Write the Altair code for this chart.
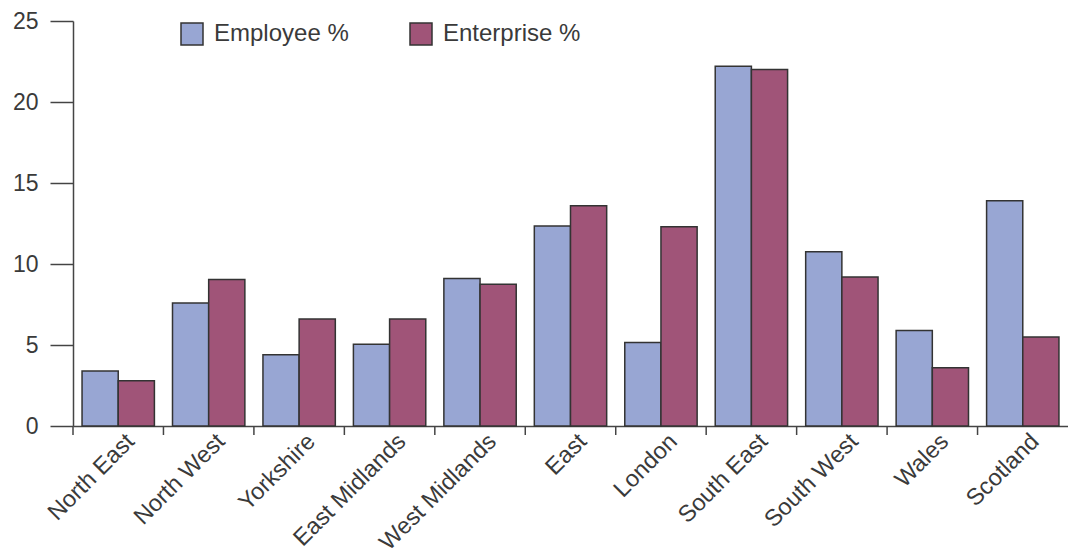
import altair as alt
import pandas as pd

regions = ["North East", "North West", "Yorkshire", "East Midlands", "West Midlands",
           "East", "London", "South East", "South West", "Wales", "Scotland"]
employee = [3.4, 7.6, 4.4, 5.05, 9.1, 12.35, 5.15, 22.2, 10.75, 5.9, 13.9]
enterprise = [2.8, 9.05, 6.6, 6.6, 8.75, 13.6, 12.3, 22.0, 9.2, 3.6, 5.5]
series = ["Employee %", "Enterprise %"]
colors = ["#98a6d3", "#a05478"]
y_ticks = [0, 5, 10, 15, 20, 25]

rows = []
for r, e, n in zip(regions, employee, enterprise):
    rows.append({"region": r, "series": series[0], "value": e})
    rows.append({"region": r, "series": series[1], "value": n})
df = pd.DataFrame(rows)
tick_df = pd.DataFrame({"region": regions})

font = "Liberation Sans"
text_color = "#3a3a3a"
line_color = "#444444"

x_scale = alt.Scale(domain=regions, paddingInner=0, paddingOuter=0)
x_axis = alt.Axis(title=None, labelAngle=-45, ticks=False, domain=True,
                  domainColor=line_color, domainWidth=1.5, labelFontSize=23.5,
                  labelFont=font, labelColor=text_color, labelPadding=3,
                  labelOffset=4, grid=False)

bars = alt.Chart(df).mark_bar(stroke="#333333", strokeWidth=1.5).encode(
    x=alt.X("region:N", scale=x_scale, axis=x_axis),
    xOffset=alt.XOffset("series:N", scale=alt.Scale(domain=series, paddingOuter=0.25, paddingInner=0)),
    y=alt.Y("value:Q", scale=alt.Scale(domain=[0, 25], nice=False),
            axis=alt.Axis(title=None, values=y_ticks, tickSize=23, tickColor=line_color,
                          tickWidth=1.5, domainColor=line_color, domainWidth=1.5,
                          labelFontSize=23, labelFont=font, labelColor=text_color,
                          labelPadding=12, grid=False)),
    color=alt.Color("series:N", scale=alt.Scale(domain=series, range=colors),
                    legend=alt.Legend(title=None, orient="none", legendX=107, legendY=1,
                                      direction="horizontal", symbolType="square",
                                      symbolSize=484, symbolStrokeColor="#333333",
                                      symbolStrokeWidth=1.5, labelFontSize=24,
                                      labelFont=font, labelColor=text_color,
                                      columnPadding=58, labelOffset=10)),
)

ticks = alt.Chart(tick_df).mark_rule(color=line_color, strokeWidth=1.5).encode(
    x=alt.X("region:N", scale=x_scale, axis=x_axis, bandPosition=0),
    y=alt.value(405),
    y2=alt.value(414),
)

chart = alt.layer(bars, ticks).properties(
    width=995, height=405,
    autosize=alt.AutoSizeParams(type="none"),
    padding={"left": 73, "top": 21, "right": 0, "bottom": 130},
).configure_view(stroke=None)

chart.save("out.html", embed_options={"renderer": "svg", "actions": False})
